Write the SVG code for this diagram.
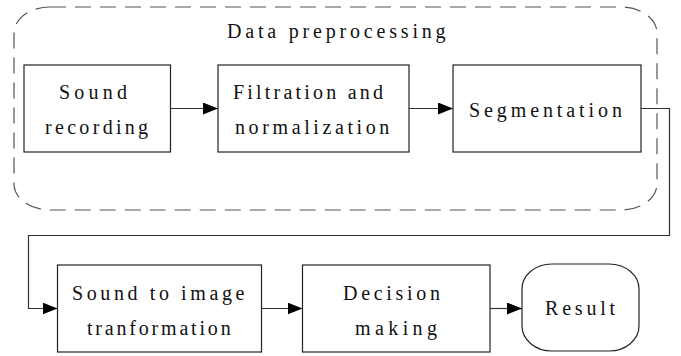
<svg xmlns="http://www.w3.org/2000/svg" width="681" height="356" viewBox="0 0 681 356">
  <style>
    .box { fill: #ffffff; stroke: #222222; stroke-width: 1.2; }
    .group { fill: none; stroke: #555555; stroke-width: 1.2; stroke-dasharray: 16 9; }
    .wire { fill: none; stroke: #333333; stroke-width: 1.2; }
  </style>
  <defs>
    <marker id="arrow" viewBox="0 0 15 12" refX="15" refY="6" markerWidth="15" markerHeight="12" markerUnits="userSpaceOnUse" orient="auto">
      <path d="M0,0 L15,6 L0,12 Z" fill="#000000"/>
    </marker>
  </defs>
  <rect width="681" height="356" fill="#ffffff"/>

  <!-- wide tracking is given per glyph with dx -->
  <!-- preprocessing stage boundary -->
  <g id="data-preprocessing">
    <rect class="group" x="14" y="7" width="643" height="203" rx="36" ry="26"/>
    <text font-family="Liberation Serif" font-size="20" fill="#111111" x="227" y="38" dx="0 3.8 3.8 3.8 3.8 3.8 3.8 3.8 3.8 3.8 3.8 3.8 3.8 3.8 3.8 3.8 3.8 3.8">Data preprocessing</text>
  </g>

  <g id="sound-recording">
    <rect class="box" x="24" y="65" width="146.5" height="87"/>
    <text font-family="Liberation Serif" font-size="20" fill="#111111" x="59" y="99" dx="0 4.2 4.2 4.2 4.2">Sound</text>
    <text font-family="Liberation Serif" font-size="20" fill="#111111" x="45" y="134" dx="0 3.3 3.3 3.3 3.3 3.3 3.3 3.3 3.3">recording</text>
  </g>

  <g id="filtration">
    <rect class="box" x="218" y="65" width="191" height="87"/>
    <text font-family="Liberation Serif" font-size="20" fill="#111111" x="233" y="99" dx="0 3.2 3.2 3.2 3.2 3.2 3.2 3.2 3.2 3.2 3.2 3.2 3.2 3.2">Filtration and</text>
    <text font-family="Liberation Serif" font-size="20" fill="#111111" x="235" y="134" dx="0 3.6 3.6 3.6 3.6 3.6 3.6 3.6 3.6 3.6 3.6 3.6 3.6">normalization</text>
  </g>

  <g id="segmentation">
    <rect class="box" x="453" y="65" width="188" height="87"/>
    <text font-family="Liberation Serif" font-size="20" fill="#111111" x="469" y="116.5" dx="0 3.9 3.9 3.9 3.9 3.9 3.9 3.9 3.9 3.9 3.9 3.9">Segmentation</text>
  </g>

  <g id="sound-to-image">
    <rect class="box" x="57.5" y="265" width="204" height="87"/>
    <text font-family="Liberation Serif" font-size="20" fill="#111111" x="72" y="300" dx="0 3.6 3.6 3.6 3.6 3.6 3.6 3.6 3.6 3.6 3.6 3.6 3.6 3.6">Sound to image</text>
    <text font-family="Liberation Serif" font-size="20" fill="#111111" x="87" y="335" dx="0 2.8 2.8 2.8 2.8 2.8 2.8 2.8 2.8 2.8 2.8 2.8 2.8">tranformation</text>
  </g>

  <g id="decision">
    <rect class="box" x="302.5" y="265" width="187.5" height="87"/>
    <text font-family="Liberation Serif" font-size="20" fill="#111111" x="343" y="300" dx="0 3.7 3.7 3.7 3.7 3.7 3.7 3.7">Decision</text>
    <text font-family="Liberation Serif" font-size="20" fill="#111111" x="355" y="335" dx="0 4.4 4.4 4.4 4.4 4.4">making</text>
  </g>

  <g id="result">
    <rect class="box" x="522" y="264" width="117" height="87" rx="30" ry="25"/>
    <text font-family="Liberation Serif" font-size="20" fill="#111111" x="545" y="315" dx="0 3.8 3.8 3.8 3.8 3.8">Result</text>
  </g>

  <!-- connectors -->
  <g id="connectors">
    <path class="wire" d="M170.5,108.5 H218" marker-end="url(#arrow)"/>
    <path class="wire" d="M409,108.5 H453" marker-end="url(#arrow)"/>
    <path class="wire" d="M641,108.5 H669.5 V235.5 H28.5 V308.5 H57.5" marker-end="url(#arrow)"/>
    <path class="wire" d="M261.5,308.5 H302.5" marker-end="url(#arrow)"/>
    <path class="wire" d="M490,308.5 H522" marker-end="url(#arrow)"/>
  </g>
</svg>
